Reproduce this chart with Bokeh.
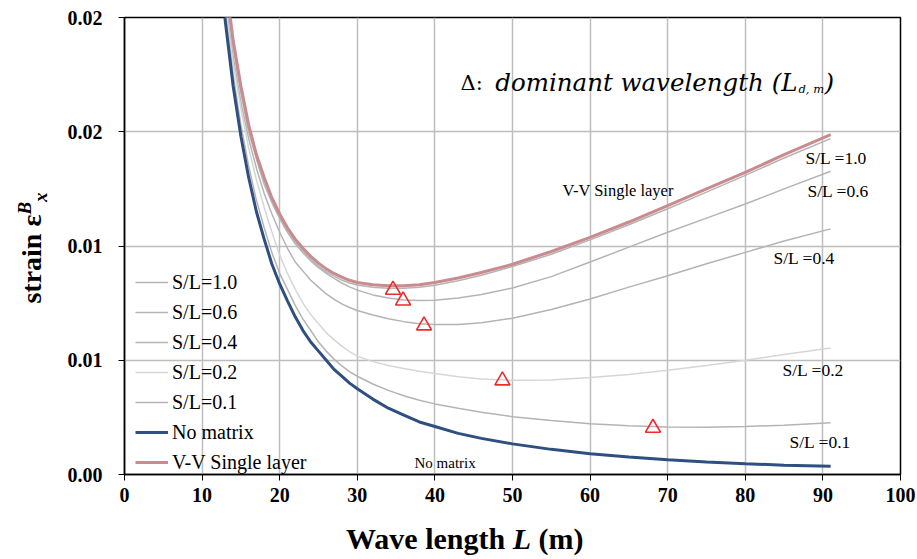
from bokeh.plotting import figure
from bokeh.models import FixedTicker, Legend, LegendItem, Label, Range1d, Div
from bokeh.layouts import row, column
from bokeh.embed import file_html
from bokeh.resources import INLINE

# ---------------- data ----------------
L = [12, 13, 14, 15, 16, 17, 18, 19, 20, 21, 22, 23, 24, 25, 26, 27, 28, 29, 30,
     32, 34, 36, 38, 40, 43, 46, 50, 55, 60, 65, 70, 75, 80, 85, 91]

no_matrix = [0.0232, 0.0198, 0.0170, 0.0148, 0.0130, 0.0115, 0.0103, 0.0092, 0.00834, 0.0076,
             0.0069, 0.0063, 0.0058, 0.0054, 0.0050, 0.0046, 0.0043, 0.0040, 0.00375,
             0.0033, 0.0029, 0.0026, 0.0023, 0.0021, 0.0018, 0.00158, 0.00134,
             0.0011, 0.00091, 0.00077, 0.00065, 0.00055, 0.00047, 0.00041, 0.00036]

vv_single = [0.0255, 0.0217, 0.0190, 0.0170, 0.0153, 0.0140, 0.0130, 0.0121, 0.0114, 0.0108,
             0.0103, 0.0099, 0.00955, 0.00925, 0.0090, 0.0088, 0.00864, 0.0085, 0.0084,
             0.0083, 0.00826, 0.00826, 0.0083, 0.0084, 0.0086, 0.00884, 0.0092,
             0.00976, 0.01038, 0.01105, 0.01177, 0.0125, 0.01322, 0.0140, 0.01487]

sl_10 = [0.0252, 0.0215, 0.0189, 0.0169, 0.0152, 0.0139, 0.0129, 0.0120, 0.0113, 0.01065,
         0.0102, 0.00978, 0.00942, 0.00912, 0.00888, 0.00868, 0.00851, 0.00838, 0.00829,
         0.00819, 0.00815, 0.00815, 0.00819, 0.00828, 0.00848, 0.00872, 0.0091,
         0.00964, 0.01027, 0.01093, 0.01163, 0.01236, 0.01309, 0.01385, 0.0147]

sl_06 = [0.0248, 0.0213, 0.0187, 0.0167, 0.0150, 0.0138, 0.0127, 0.0119, 0.0112, 0.0106,
         0.0101, 0.0097, 0.00935, 0.00905, 0.0088, 0.00858, 0.00838, 0.00821, 0.00807,
         0.00786, 0.00772, 0.00764, 0.00761, 0.00763, 0.00772, 0.00788, 0.00816,
         0.00866, 0.0093, 0.00995, 0.0106, 0.01122, 0.01184, 0.0125, 0.01327]

sl_04 = [0.0240, 0.0207, 0.0183, 0.0163, 0.0147, 0.0134, 0.0123, 0.0114, 0.0106, 0.0099,
         0.0093, 0.0089, 0.0085, 0.0082, 0.0079, 0.00767, 0.00747, 0.00731, 0.00718,
         0.00698, 0.00682, 0.00669, 0.0066, 0.00656, 0.00656, 0.00664, 0.00684,
         0.00722, 0.00768, 0.0082, 0.0087, 0.00922, 0.00972, 0.01022, 0.01075]

sl_02 = [0.0236, 0.0205, 0.0180, 0.0160, 0.0143, 0.0129, 0.0117, 0.0106, 0.0096, 0.0088,
         0.0081, 0.0075, 0.0070, 0.0066, 0.0062, 0.0059, 0.00562, 0.00538, 0.00518,
         0.00494, 0.00477, 0.00464, 0.00452, 0.00442, 0.00428, 0.00418, 0.00412,
         0.00414, 0.00424, 0.00438, 0.00456, 0.00477, 0.0050, 0.00525, 0.00554]

sl_01 = [0.0237, 0.0202, 0.0175, 0.0153, 0.0135, 0.0120, 0.0108, 0.0097, 0.0088, 0.0081,
         0.0074, 0.0068, 0.0063, 0.0058, 0.0054, 0.00505, 0.00475, 0.0045, 0.0043,
         0.00396, 0.00368, 0.00345, 0.00325, 0.00309, 0.0029, 0.00272, 0.00253,
         0.00236, 0.00222, 0.00213, 0.00208, 0.00207, 0.0021, 0.00216, 0.00226]

dominant_L = [34.6, 35.9, 38.6, 48.7, 68.1]
dominant_eps = [0.00808, 0.00761, 0.00652, 0.00411, 0.00204]

x_ticks = [0, 10, 20, 30, 40, 50, 60, 70, 80, 90, 100]
y_ticks = [0.0, 0.005, 0.01, 0.015, 0.02]
y_tick_labels = ["0.00", "0.01", "0.01", "0.02", "0.02"]

# ---------------- figure ----------------
SERIF = "Liberation Serif"
YDIV_W = 56
FIG_W = 917 - YDIV_W
FIG_H = 520

p = figure(width=FIG_W, height=FIG_H, x_range=Range1d(0, 100), y_range=Range1d(0, 0.02),
           output_backend="svg", toolbar_location=None,
           min_border_left=124 - YDIV_W, min_border_right=17, min_border_top=17,
           min_border_bottom=FIG_H - 474)
p.background_fill_color = "white"
p.border_fill_color = "white"
p.outline_line_color = "black"
p.outline_line_width = 1.5
p.outline_line_alpha = 1.0

for ax, tk in ((p.xaxis, x_ticks), (p.yaxis, y_ticks)):
    ax.ticker = FixedTicker(ticks=tk)
    ax.axis_line_color = "black"
    ax.axis_line_width = 1.5
    ax.major_tick_line_color = "black"
    ax.major_tick_line_width = 1
    ax.major_tick_out = 6
    ax.major_tick_in = 0
    ax.minor_tick_line_color = None
    ax.major_label_text_font = SERIF
    ax.major_label_text_font_style = "bold"
    ax.major_label_text_font_size = "20px"
    ax.major_label_text_color = "black"
p.xaxis.major_label_standoff = 7
p.yaxis.major_label_standoff = 16
p.yaxis.major_label_overrides = dict(zip(y_ticks, y_tick_labels))

p.xgrid.ticker = FixedTicker(ticks=x_ticks)
p.ygrid.ticker = FixedTicker(ticks=y_ticks)
for g in (p.xgrid, p.ygrid):
    g.grid_line_color = "#bdbdbd"
    g.grid_line_width = 1.5

GRAY = "#b4b4b4"
LIGHT = "#d6d6d6"
r10 = p.line(L, sl_10, line_color=GRAY, line_width=1.5)
r06 = p.line(L, sl_06, line_color=GRAY, line_width=1.5)
r04 = p.line(L, sl_04, line_color=GRAY, line_width=1.5)
r02 = p.line(L, sl_02, line_color=LIGHT, line_width=1.5)
r01 = p.line(L, sl_01, line_color=GRAY, line_width=1.5)
rnm = p.line(L, no_matrix, line_color="#2f4f80", line_width=3)
rvv = p.line(L, vv_single, line_color="#c98b8f", line_width=3)
p.scatter(dominant_L, dominant_eps, marker="triangle", size=15, fill_color=None,
          line_color="#ee2a2a", line_width=1.6)

legend = Legend(items=[
    LegendItem(label="S/L=1.0", renderers=[r10]),
    LegendItem(label="S/L=0.6", renderers=[r06]),
    LegendItem(label="S/L=0.4", renderers=[r04]),
    LegendItem(label="S/L=0.2", renderers=[r02]),
    LegendItem(label="S/L=0.1", renderers=[r01]),
    LegendItem(label="No matrix", renderers=[rnm]),
    LegendItem(label="V-V Single layer", renderers=[rvv]),
], location=(11, 0))
legend.label_text_font = SERIF
legend.label_text_font_size = "20px"
legend.label_text_color = "black"
legend.glyph_width = 33
legend.glyph_height = 24
legend.label_height = 24
legend.spacing = 6
legend.padding = 0
legend.margin = 0
legend.label_standoff = 4
legend.border_line_color = None
legend.background_fill_alpha = 0
p.add_layout(legend, "center")


# ---------------- text annotations (positions in page pixels) ----------------
def X(px):
    return (px - 124) / 7.76


def Y(py):
    return (474 - py) / 457 * 0.02


def lab(px, py, text, size, font=SERIF, style="normal", align="left", baseline="middle"):
    p.add_layout(Label(x=X(px), y=Y(py), text=text, text_font=font, text_font_size=size,
                       text_font_style=style, text_align=align, text_baseline=baseline,
                       text_color="black"))


lab(562, 190, "V-V Single layer", "16.5px")
lab(805, 157, "S/L =1.0", "17.5px")
lab(807, 190, "S/L =0.6", "17.5px")
lab(773, 257, "S/L =0.4", "17.5px")
lab(782, 369, "S/L =0.2", "17.5px")
lab(789, 441, "S/L =0.1", "17.5px")
lab(414, 462, "No matrix", "15px")

# dominant wavelength note
lab(460, 82, "\u0394:", "21px", font="DejaVu Serif", baseline="alphabetic")
lab(797, 82, "dominant wavelength (L", "24.5px", font="DejaVu Serif", style="italic",
    align="right", baseline="alphabetic")
lab(798, 88, "d, m", "11.5px", font="DejaVu Serif", style="italic", baseline="alphabetic")
lab(824, 82, ")", "24.5px", font="DejaVu Serif", style="italic", baseline="alphabetic")

# ---------------- axis titles (HTML, mixed styles) ----------------
ydiv = Div(width=YDIV_W, height=559, margin=(0, 0, 0, 0), text=(
    '<div style="position:absolute; left:33px; top:248px; white-space:nowrap; '
    'transform:translate(-50%,-50%) rotate(-90deg); color:black; '
    "font-family:'Liberation Serif'; font-weight:bold; font-size:28px; line-height:30px\">"
    'strain \u03b5<sup style="font-size:19px"><i>B</i></sup>'
    '<sub style="font-size:19px"><i>x</i></sub></div>'))

xdiv = Div(width=FIG_W, height=559 - FIG_H, margin=(0, 0, 0, 0), text=(
    f'<div style="white-space:nowrap; margin-left:{346 - YDIV_W}px; padding-top:4px; color:black; '
    "font-family:'Liberation Serif'; font-weight:bold; font-size:30px; line-height:30px\">"
    'Wave length <i>L</i> (m)</div>'))

layout = row(ydiv, column(p, xdiv))

open("out.html", "w").write(file_html(layout, INLINE))
